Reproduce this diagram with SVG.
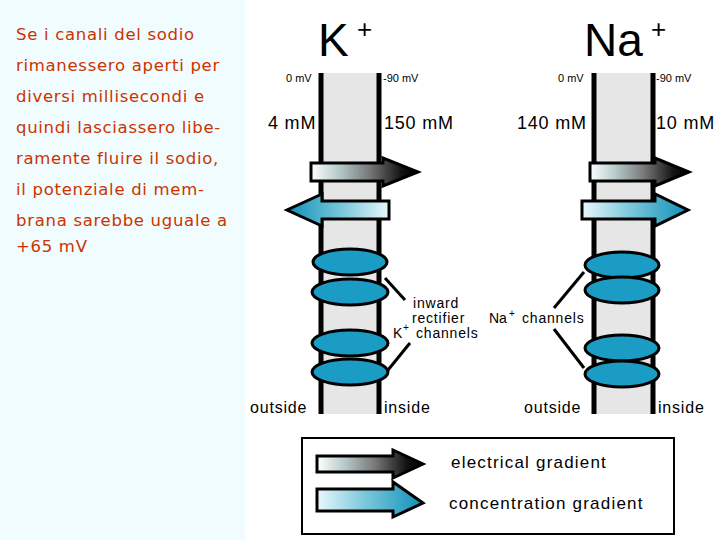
<svg xmlns="http://www.w3.org/2000/svg" width="720" height="540" viewBox="0 0 720 540">
<defs>
<linearGradient id="el" x1="0" x2="1"><stop offset="0" stop-color="#fff"/><stop offset="0.25" stop-color="#b8cccc"/><stop offset="0.55" stop-color="#777"/><stop offset="0.85" stop-color="#111"/><stop offset="1" stop-color="#000"/></linearGradient>
<linearGradient id="co" x1="0" x2="1"><stop offset="0" stop-color="#e8f8fc"/><stop offset="0.45" stop-color="#7cc8dc"/><stop offset="1" stop-color="#1090b8"/></linearGradient>
<linearGradient id="coL" x1="1" x2="0"><stop offset="0" stop-color="#e8f8fc"/><stop offset="0.45" stop-color="#7cc8dc"/><stop offset="1" stop-color="#1090b8"/></linearGradient>
<style>
.t{font-family:"Liberation Sans",Arial,sans-serif;fill:#000}
.m{fill:#e6e6e6}
.w{stroke:#000;stroke-width:5}
.ch{fill:#1a9cc4;stroke:#000;stroke-width:3}
.ar{stroke:#000;stroke-width:3}
.ln{stroke:#000;stroke-width:3}
.s{letter-spacing:0.8px}
.p{font-family:"Comic Sans MS","DejaVu Sans",sans-serif;font-size:16.5px;letter-spacing:0.7px;fill:#cc3300}
</style>
</defs>
<rect width="720" height="540" fill="#fff"/>
<rect width="245" height="540" fill="#f0fcfe"/>
<g id="para">
<text class="p" x="16" y="40">Se i canali del sodio</text>
<text class="p" x="16" y="71">rimanessero aperti per</text>
<text class="p" x="16" y="102">diversi millisecondi e</text>
<text class="p" x="16" y="133">quindi lasciassero libe-</text>
<text class="p" x="16" y="164">ramente fluire il sodio,</text>
<text class="p" x="16" y="195">il potenziale di mem-</text>
<text class="p" x="16" y="226">brana sarebbe uguale a</text>
<text class="p" x="16" y="252">+65 mV</text>
</g>
<g id="K">
<rect class="m" x="321" y="73" width="58" height="341"/>
<line class="w" x1="321" y1="73" x2="321" y2="414"/><line class="w" x1="379" y1="73" x2="379" y2="414"/>
<text class="t" x="318" y="56" font-size="46">K</text><text class="t" x="357" y="38" font-size="26">+</text>
<text class="t" x="286" y="82" font-size="11">0 mV</text><text class="t" x="383" y="82" font-size="11">-90 mV</text>
<text class="t s" x="268" y="129" font-size="18">4 mM</text><text class="t s" x="384" y="129" font-size="18">150 mM</text>
<path class="ar" fill="url(#el)" d="M311,163 H383 V158 L418,172 L383,186 V181 H311 Z"/>
<path class="ar" fill="url(#coL)" d="M389,201 H322 V194 L287,210 L322,226 V219 H389 Z"/>
<ellipse class="ch" cx="350" cy="262" rx="37" ry="13"/>
<ellipse class="ch" cx="350" cy="292" rx="38" ry="13"/>
<ellipse class="ch" cx="350" cy="343" rx="38" ry="13"/>
<ellipse class="ch" cx="350" cy="372" rx="38" ry="13"/>
<text class="t s" x="250" y="413" font-size="16">outside</text><text class="t s" x="384" y="413" font-size="16">inside</text>
</g>
<g id="Na">
<rect class="m" x="594" y="73" width="59" height="341"/>
<line class="w" x1="594" y1="73" x2="594" y2="414"/><line class="w" x1="653" y1="73" x2="653" y2="414"/>
<text class="t" x="584" y="56" font-size="46">Na</text><text class="t" x="651" y="38" font-size="26">+</text>
<text class="t" x="558" y="82" font-size="11">0 mV</text><text class="t" x="656" y="82" font-size="11">-90 mV</text>
<text class="t s" x="517" y="129" font-size="18">140 mM</text><text class="t s" x="656" y="129" font-size="18">10 mM</text>
<path class="ar" fill="url(#el)" d="M590,163 H655 V158 L689,172 L655,186 V181 H590 Z"/>
<path class="ar" fill="url(#co)" d="M582,201 H655 V194 L688,210 L655,226 V219 H582 Z"/>
<ellipse class="ch" cx="622" cy="265" rx="37" ry="13"/>
<ellipse class="ch" cx="622" cy="290" rx="37" ry="13"/>
<ellipse class="ch" cx="622" cy="348" rx="37" ry="13"/>
<ellipse class="ch" cx="622" cy="374" rx="37" ry="13"/>
<text class="t s" x="524" y="413" font-size="16">outside</text><text class="t s" x="658" y="413" font-size="16">inside</text>
</g>
<g id="connectors">
<line class="ln" x1="385" y1="278" x2="405" y2="300"/>
<line class="ln" x1="410" y1="343" x2="388" y2="370"/>
<line class="ln" x1="554" y1="308" x2="584" y2="272"/>
<line class="ln" x1="554" y1="329" x2="584" y2="368"/>
</g>
<g id="labels">
<text class="t s" x="413" y="308" font-size="14">inward</text>
<text class="t s" x="412" y="323" font-size="14">rectifier</text>
<text class="t" x="393" y="338" font-size="14">K</text><text class="t" x="403" y="331" font-size="10">+</text>
<text class="t s" x="416" y="338" font-size="14">channels</text>
<text class="t" x="489" y="323" font-size="14">Na</text><text class="t" x="509" y="317" font-size="10">+</text>
<text class="t s" x="522" y="323" font-size="14">channels</text>
</g>
<g id="legend">
<rect x="302" y="438" width="372" height="96" fill="#fff" stroke="#000" stroke-width="2"/>
<path class="ar" fill="url(#el)" d="M317,456 H393 V450 L423,464 L393,478 V472 H317 Z"/>
<path class="ar" fill="url(#co)" d="M317,489 H393 V482 L423,503 L393,517 V511 H317 Z"/>
<text class="t" x="451" y="468" font-size="17" letter-spacing="1.2">electrical gradient</text>
<text class="t" x="449" y="509" font-size="17" letter-spacing="1.2">concentration gradient</text>
</g>
</svg>
